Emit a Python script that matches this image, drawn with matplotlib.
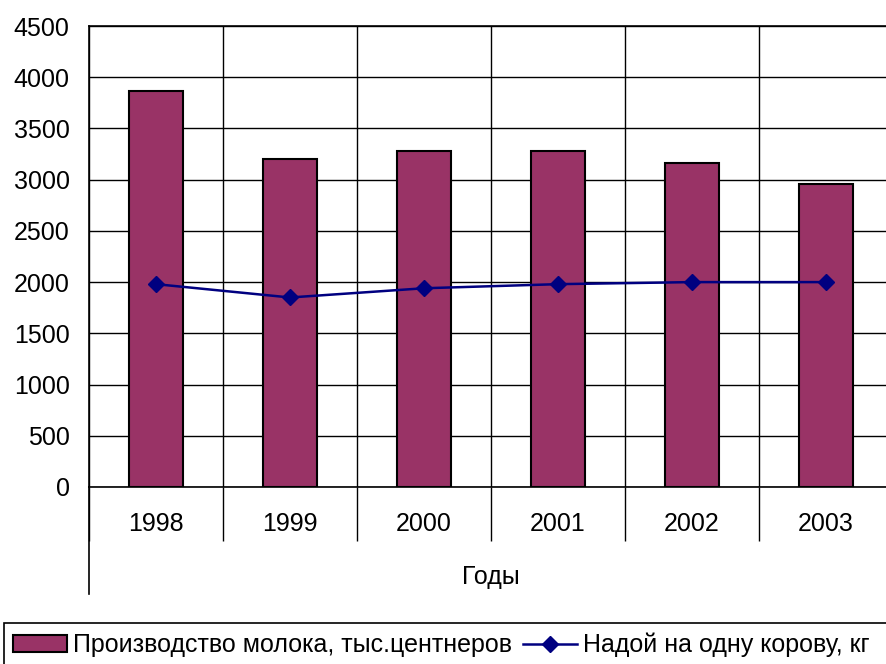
import matplotlib.pyplot as plt
from matplotlib.patches import Rectangle
from matplotlib.lines import Line2D
from matplotlib.ticker import MultipleLocator

plt.rcParams['font.family'] = ['Liberation Sans', 'DejaVu Sans']

# data
years = ['1998', '1999', '2000', '2001', '2002', '2003']
milk = [3870, 3200, 3280, 3275, 3160, 2955]      # тыс. центнеров
yield_per_cow = [1980, 1850, 1940, 1980, 2000, 2000]  # кг

bar_color = '#993366'
line_color = '#000080'
fs = 18

W, H = 886, 664
fig = plt.figure(figsize=(W / 100, H / 100), dpi=100)
# plot area in pixels: left 89, right 893 (runs past the edge), top 26, bottom 487
ax = fig.add_axes([89 / W, (H - 487) / H, (893 - 89) / W, (487 - 26) / H])

x = list(range(len(years)))
bars = ax.bar(x, milk, width=0.4, color=bar_color, edgecolor='black', linewidth=1.5,
              zorder=3, label='Производство молока, тыс.центнеров')
line, = ax.plot(x, yield_per_cow, color=line_color, linewidth=1.8, marker='D',
                markersize=8, zorder=4, label='Надой на одну корову, кг')

ax.set_xlim(-0.5, len(years) - 0.5)
ax.set_ylim(0, 4500)
ax.yaxis.set_major_locator(MultipleLocator(500))
ax.set_xticks(x)
ax.set_xticklabels(years)
ax.set_xticks([i - 0.5 for i in range(len(years) + 1)], minor=True)

ax.grid(axis='y', which='major', color='black', linewidth=1, zorder=0)
ax.grid(axis='x', which='minor', color='black', linewidth=1, zorder=0)
ax.set_axisbelow(True)

ax.tick_params(axis='y', length=0, pad=14, labelsize=fs)
ax.tick_params(axis='x', which='major', length=0, pad=18, labelsize=fs)
ax.tick_params(axis='x', which='minor', length=39, width=1, direction='out')

for s in ax.spines.values():
    s.set_linewidth(1.2)
    s.set_color('black')

# left axis line continues down past the category labels
ax.add_line(Line2D([0, 0], [0, -0.232], transform=ax.transAxes, color='black',
                   linewidth=1.2, clip_on=False))

fig.text((89 + 893) / 2 / W, (H - 577) / H, 'Годы', ha='center', va='center', fontsize=fs)

# legend box (runs past the right and bottom edges)
fig.patches.append(Rectangle((4 / W, -20 / H), 900 / W, (H - 623 + 20) / H,
                             transform=fig.transFigure, fill=False,
                             edgecolor='black', linewidth=1.2))
fig.legend([bars, line], [bars.get_label(), line.get_label()],
           loc='center left', bbox_to_anchor=(13 / W, (H - 645) / H),
           ncol=2, frameon=False, fontsize=fs, borderpad=0, borderaxespad=0,
           handlelength=2.16, handleheight=0.64, handletextpad=0.24,
           columnspacing=0.44)

plt.savefig('out.png', dpi=100)
